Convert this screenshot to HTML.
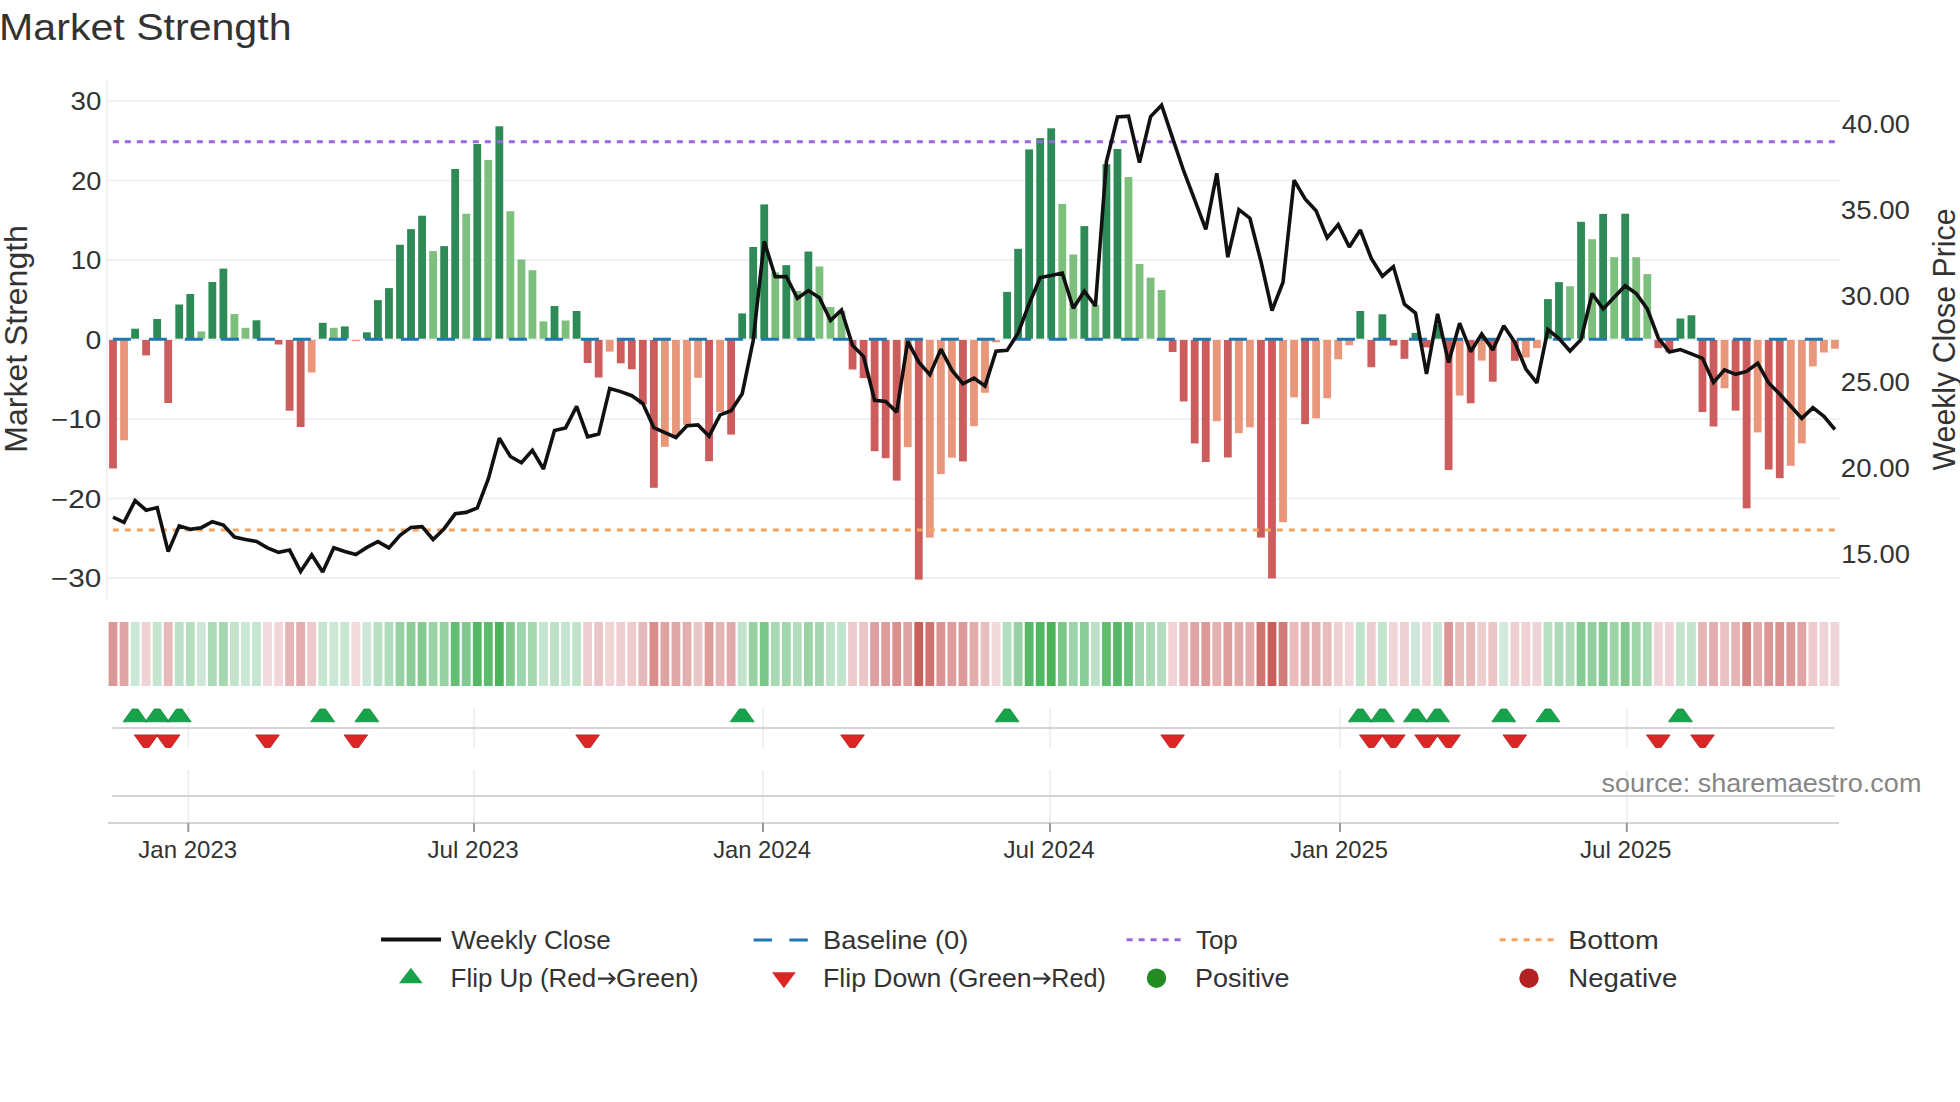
<!DOCTYPE html><html><head><meta charset="utf-8"><title>Market Strength</title><style>html,body{margin:0;padding:0;background:#fff;width:1960px;height:1102px;overflow:hidden}svg{display:block}text{font-family:"Liberation Sans",sans-serif}</style></head><body>
<svg width="1960" height="1102" viewBox="0 0 1960 1102">
<rect width="1960" height="1102" fill="#fff"/>
<line x1="108" y1="101.0" x2="1840" y2="101.0" stroke="#ebeef5" stroke-width="1.7"/>
<line x1="108" y1="180.5" x2="1840" y2="180.5" stroke="#ebeef5" stroke-width="1.7"/>
<line x1="108" y1="260.1" x2="1840" y2="260.1" stroke="#ebeef5" stroke-width="1.7"/>
<line x1="108" y1="339.6" x2="1840" y2="339.6" stroke="#ebeef5" stroke-width="1.7"/>
<line x1="108" y1="419.1" x2="1840" y2="419.1" stroke="#ebeef5" stroke-width="1.7"/>
<line x1="108" y1="498.7" x2="1840" y2="498.7" stroke="#ebeef5" stroke-width="1.7"/>
<line x1="108" y1="578.2" x2="1840" y2="578.2" stroke="#ebeef5" stroke-width="1.7"/>
<line x1="107" y1="80" x2="107" y2="599.5" stroke="#efeff4" stroke-width="1.6"/>
<rect x="109.10" y="340.00" width="7.8" height="128.50" fill="#cd5c5c"/>
<rect x="120.14" y="340.00" width="7.8" height="100.30" fill="#e9967a"/>
<rect x="131.18" y="328.70" width="7.8" height="10.00" fill="#2e8b57"/>
<rect x="142.21" y="340.00" width="7.8" height="15.40" fill="#cd5c5c"/>
<rect x="153.25" y="319.00" width="7.8" height="19.70" fill="#2e8b57"/>
<rect x="164.29" y="340.00" width="7.8" height="63.00" fill="#cd5c5c"/>
<rect x="175.33" y="304.50" width="7.8" height="34.20" fill="#2e8b57"/>
<rect x="186.37" y="294.00" width="7.8" height="44.70" fill="#2e8b57"/>
<rect x="197.40" y="331.40" width="7.8" height="7.30" fill="#7dbf7d"/>
<rect x="208.44" y="282.00" width="7.8" height="56.70" fill="#2e8b57"/>
<rect x="219.48" y="268.60" width="7.8" height="70.10" fill="#2e8b57"/>
<rect x="230.52" y="314.00" width="7.8" height="24.70" fill="#7dbf7d"/>
<rect x="241.56" y="327.80" width="7.8" height="10.90" fill="#7dbf7d"/>
<rect x="252.59" y="320.30" width="7.8" height="18.40" fill="#2e8b57"/>
<rect x="274.67" y="340.00" width="7.8" height="4.50" fill="#cd5c5c"/>
<rect x="285.71" y="340.00" width="7.8" height="70.70" fill="#cd5c5c"/>
<rect x="296.75" y="340.00" width="7.8" height="87.00" fill="#cd5c5c"/>
<rect x="307.78" y="340.00" width="7.8" height="32.50" fill="#e9967a"/>
<rect x="318.82" y="322.80" width="7.8" height="15.90" fill="#2e8b57"/>
<rect x="329.86" y="327.80" width="7.8" height="10.90" fill="#7dbf7d"/>
<rect x="340.90" y="326.40" width="7.8" height="12.30" fill="#2e8b57"/>
<rect x="351.94" y="340.00" width="7.8" height="1.20" fill="#e9967a"/>
<rect x="362.97" y="332.30" width="7.8" height="6.40" fill="#2e8b57"/>
<rect x="374.01" y="300.10" width="7.8" height="38.60" fill="#2e8b57"/>
<rect x="385.05" y="288.10" width="7.8" height="50.60" fill="#2e8b57"/>
<rect x="396.09" y="244.80" width="7.8" height="93.90" fill="#2e8b57"/>
<rect x="407.13" y="229.10" width="7.8" height="109.60" fill="#2e8b57"/>
<rect x="418.16" y="215.70" width="7.8" height="123.00" fill="#2e8b57"/>
<rect x="429.20" y="251.10" width="7.8" height="87.60" fill="#7dbf7d"/>
<rect x="440.24" y="246.10" width="7.8" height="92.60" fill="#2e8b57"/>
<rect x="451.28" y="169.00" width="7.8" height="169.70" fill="#2e8b57"/>
<rect x="462.32" y="213.70" width="7.8" height="125.00" fill="#7dbf7d"/>
<rect x="473.35" y="144.00" width="7.8" height="194.70" fill="#2e8b57"/>
<rect x="484.39" y="159.90" width="7.8" height="178.80" fill="#7dbf7d"/>
<rect x="495.43" y="126.30" width="7.8" height="212.40" fill="#2e8b57"/>
<rect x="506.47" y="211.20" width="7.8" height="127.50" fill="#7dbf7d"/>
<rect x="517.51" y="259.50" width="7.8" height="79.20" fill="#7dbf7d"/>
<rect x="528.54" y="270.20" width="7.8" height="68.50" fill="#7dbf7d"/>
<rect x="539.58" y="321.40" width="7.8" height="17.30" fill="#7dbf7d"/>
<rect x="550.62" y="306.00" width="7.8" height="32.70" fill="#2e8b57"/>
<rect x="561.66" y="320.50" width="7.8" height="18.20" fill="#7dbf7d"/>
<rect x="572.70" y="311.00" width="7.8" height="27.70" fill="#2e8b57"/>
<rect x="583.73" y="340.00" width="7.8" height="23.00" fill="#cd5c5c"/>
<rect x="594.77" y="340.00" width="7.8" height="37.50" fill="#cd5c5c"/>
<rect x="605.81" y="340.00" width="7.8" height="11.60" fill="#e9967a"/>
<rect x="616.85" y="340.00" width="7.8" height="23.30" fill="#cd5c5c"/>
<rect x="627.89" y="340.00" width="7.8" height="29.30" fill="#cd5c5c"/>
<rect x="638.92" y="340.00" width="7.8" height="64.50" fill="#cd5c5c"/>
<rect x="649.96" y="340.00" width="7.8" height="147.80" fill="#cd5c5c"/>
<rect x="661.00" y="340.00" width="7.8" height="106.80" fill="#e9967a"/>
<rect x="672.04" y="340.00" width="7.8" height="96.00" fill="#e9967a"/>
<rect x="683.08" y="340.00" width="7.8" height="85.00" fill="#e9967a"/>
<rect x="694.11" y="340.00" width="7.8" height="37.80" fill="#e9967a"/>
<rect x="705.15" y="340.00" width="7.8" height="121.20" fill="#cd5c5c"/>
<rect x="716.19" y="340.00" width="7.8" height="72.00" fill="#e9967a"/>
<rect x="727.23" y="340.00" width="7.8" height="94.60" fill="#cd5c5c"/>
<rect x="738.27" y="313.40" width="7.8" height="25.30" fill="#2e8b57"/>
<rect x="749.30" y="247.00" width="7.8" height="91.70" fill="#2e8b57"/>
<rect x="760.34" y="204.40" width="7.8" height="134.30" fill="#2e8b57"/>
<rect x="771.38" y="272.40" width="7.8" height="66.30" fill="#7dbf7d"/>
<rect x="782.42" y="265.20" width="7.8" height="73.50" fill="#2e8b57"/>
<rect x="793.46" y="291.00" width="7.8" height="47.70" fill="#7dbf7d"/>
<rect x="804.49" y="251.50" width="7.8" height="87.20" fill="#2e8b57"/>
<rect x="815.53" y="266.50" width="7.8" height="72.20" fill="#7dbf7d"/>
<rect x="826.57" y="307.00" width="7.8" height="31.70" fill="#7dbf7d"/>
<rect x="837.61" y="311.00" width="7.8" height="27.70" fill="#7dbf7d"/>
<rect x="848.65" y="340.00" width="7.8" height="29.50" fill="#cd5c5c"/>
<rect x="859.68" y="340.00" width="7.8" height="38.10" fill="#cd5c5c"/>
<rect x="870.72" y="340.00" width="7.8" height="111.20" fill="#cd5c5c"/>
<rect x="881.76" y="340.00" width="7.8" height="118.20" fill="#cd5c5c"/>
<rect x="892.80" y="340.00" width="7.8" height="140.60" fill="#cd5c5c"/>
<rect x="903.84" y="340.00" width="7.8" height="107.10" fill="#e9967a"/>
<rect x="914.87" y="340.00" width="7.8" height="239.60" fill="#cd5c5c"/>
<rect x="925.91" y="340.00" width="7.8" height="197.60" fill="#e9967a"/>
<rect x="936.95" y="340.00" width="7.8" height="134.10" fill="#e9967a"/>
<rect x="947.99" y="340.00" width="7.8" height="117.70" fill="#e9967a"/>
<rect x="959.03" y="340.00" width="7.8" height="121.40" fill="#cd5c5c"/>
<rect x="970.06" y="340.00" width="7.8" height="86.20" fill="#e9967a"/>
<rect x="981.10" y="340.00" width="7.8" height="52.80" fill="#e9967a"/>
<rect x="992.14" y="340.00" width="7.8" height="2.30" fill="#e9967a"/>
<rect x="1003.18" y="291.90" width="7.8" height="46.80" fill="#2e8b57"/>
<rect x="1014.22" y="248.80" width="7.8" height="89.90" fill="#2e8b57"/>
<rect x="1025.25" y="149.40" width="7.8" height="189.30" fill="#2e8b57"/>
<rect x="1036.29" y="138.10" width="7.8" height="200.60" fill="#2e8b57"/>
<rect x="1047.33" y="128.30" width="7.8" height="210.40" fill="#2e8b57"/>
<rect x="1058.37" y="203.90" width="7.8" height="134.80" fill="#7dbf7d"/>
<rect x="1069.41" y="254.50" width="7.8" height="84.20" fill="#7dbf7d"/>
<rect x="1080.44" y="226.10" width="7.8" height="112.60" fill="#2e8b57"/>
<rect x="1091.48" y="305.00" width="7.8" height="33.70" fill="#7dbf7d"/>
<rect x="1102.52" y="164.20" width="7.8" height="174.50" fill="#2e8b57"/>
<rect x="1113.56" y="149.00" width="7.8" height="189.70" fill="#2e8b57"/>
<rect x="1124.60" y="177.10" width="7.8" height="161.60" fill="#7dbf7d"/>
<rect x="1135.63" y="264.00" width="7.8" height="74.70" fill="#7dbf7d"/>
<rect x="1146.67" y="277.60" width="7.8" height="61.10" fill="#7dbf7d"/>
<rect x="1157.71" y="290.10" width="7.8" height="48.60" fill="#7dbf7d"/>
<rect x="1168.75" y="340.00" width="7.8" height="12.00" fill="#cd5c5c"/>
<rect x="1179.79" y="340.00" width="7.8" height="61.50" fill="#cd5c5c"/>
<rect x="1190.82" y="340.00" width="7.8" height="103.40" fill="#cd5c5c"/>
<rect x="1201.86" y="340.00" width="7.8" height="122.00" fill="#cd5c5c"/>
<rect x="1212.90" y="340.00" width="7.8" height="81.20" fill="#e9967a"/>
<rect x="1223.94" y="340.00" width="7.8" height="117.50" fill="#cd5c5c"/>
<rect x="1234.98" y="340.00" width="7.8" height="93.20" fill="#e9967a"/>
<rect x="1246.01" y="340.00" width="7.8" height="87.30" fill="#e9967a"/>
<rect x="1257.05" y="340.00" width="7.8" height="197.60" fill="#cd5c5c"/>
<rect x="1268.09" y="340.00" width="7.8" height="238.40" fill="#cd5c5c"/>
<rect x="1279.13" y="340.00" width="7.8" height="182.20" fill="#e9967a"/>
<rect x="1290.17" y="340.00" width="7.8" height="57.40" fill="#e9967a"/>
<rect x="1301.20" y="340.00" width="7.8" height="84.20" fill="#cd5c5c"/>
<rect x="1312.24" y="340.00" width="7.8" height="78.30" fill="#e9967a"/>
<rect x="1323.28" y="340.00" width="7.8" height="58.20" fill="#e9967a"/>
<rect x="1334.32" y="340.00" width="7.8" height="19.30" fill="#e9967a"/>
<rect x="1345.36" y="340.00" width="7.8" height="5.30" fill="#e9967a"/>
<rect x="1356.39" y="311.00" width="7.8" height="27.70" fill="#2e8b57"/>
<rect x="1367.43" y="340.00" width="7.8" height="27.20" fill="#cd5c5c"/>
<rect x="1378.47" y="314.30" width="7.8" height="24.40" fill="#2e8b57"/>
<rect x="1389.51" y="340.00" width="7.8" height="5.60" fill="#cd5c5c"/>
<rect x="1400.55" y="340.00" width="7.8" height="18.80" fill="#cd5c5c"/>
<rect x="1411.58" y="332.90" width="7.8" height="5.80" fill="#2e8b57"/>
<rect x="1422.62" y="340.00" width="7.8" height="7.40" fill="#cd5c5c"/>
<rect x="1433.66" y="325.00" width="7.8" height="13.70" fill="#2e8b57"/>
<rect x="1444.70" y="340.00" width="7.8" height="130.10" fill="#cd5c5c"/>
<rect x="1455.74" y="340.00" width="7.8" height="55.60" fill="#e9967a"/>
<rect x="1466.77" y="340.00" width="7.8" height="63.30" fill="#cd5c5c"/>
<rect x="1477.81" y="340.00" width="7.8" height="20.60" fill="#e9967a"/>
<rect x="1488.85" y="340.00" width="7.8" height="41.70" fill="#cd5c5c"/>
<rect x="1510.93" y="340.00" width="7.8" height="20.80" fill="#cd5c5c"/>
<rect x="1521.96" y="340.00" width="7.8" height="17.50" fill="#e9967a"/>
<rect x="1533.00" y="340.00" width="7.8" height="8.10" fill="#e9967a"/>
<rect x="1544.04" y="299.10" width="7.8" height="39.60" fill="#2e8b57"/>
<rect x="1555.08" y="282.10" width="7.8" height="56.60" fill="#2e8b57"/>
<rect x="1566.12" y="286.20" width="7.8" height="52.50" fill="#7dbf7d"/>
<rect x="1577.15" y="221.80" width="7.8" height="116.90" fill="#2e8b57"/>
<rect x="1588.19" y="239.20" width="7.8" height="99.50" fill="#7dbf7d"/>
<rect x="1599.23" y="213.90" width="7.8" height="124.80" fill="#2e8b57"/>
<rect x="1610.27" y="257.20" width="7.8" height="81.50" fill="#7dbf7d"/>
<rect x="1621.31" y="213.70" width="7.8" height="125.00" fill="#2e8b57"/>
<rect x="1632.34" y="257.20" width="7.8" height="81.50" fill="#7dbf7d"/>
<rect x="1643.38" y="274.10" width="7.8" height="64.60" fill="#7dbf7d"/>
<rect x="1654.42" y="340.00" width="7.8" height="8.10" fill="#cd5c5c"/>
<rect x="1665.46" y="340.00" width="7.8" height="12.50" fill="#cd5c5c"/>
<rect x="1676.50" y="318.50" width="7.8" height="20.20" fill="#2e8b57"/>
<rect x="1687.53" y="315.30" width="7.8" height="23.40" fill="#2e8b57"/>
<rect x="1698.57" y="340.00" width="7.8" height="72.00" fill="#cd5c5c"/>
<rect x="1709.61" y="340.00" width="7.8" height="86.50" fill="#cd5c5c"/>
<rect x="1720.65" y="340.00" width="7.8" height="48.20" fill="#e9967a"/>
<rect x="1731.69" y="340.00" width="7.8" height="70.60" fill="#cd5c5c"/>
<rect x="1742.72" y="340.00" width="7.8" height="168.40" fill="#cd5c5c"/>
<rect x="1753.76" y="340.00" width="7.8" height="92.40" fill="#e9967a"/>
<rect x="1764.80" y="340.00" width="7.8" height="129.50" fill="#cd5c5c"/>
<rect x="1775.84" y="340.00" width="7.8" height="138.20" fill="#cd5c5c"/>
<rect x="1786.88" y="340.00" width="7.8" height="125.80" fill="#e9967a"/>
<rect x="1797.91" y="340.00" width="7.8" height="103.40" fill="#e9967a"/>
<rect x="1808.95" y="340.00" width="7.8" height="26.40" fill="#e9967a"/>
<rect x="1819.99" y="340.00" width="7.8" height="12.50" fill="#e9967a"/>
<rect x="1831.03" y="340.00" width="7.8" height="8.70" fill="#e9967a"/>
<line x1="112.9" y1="339.3" x2="1838" y2="339.3" stroke="#1f77b4" stroke-width="3" stroke-dasharray="18 18"/>
<line x1="112.8" y1="141.7" x2="1838" y2="141.7" stroke="#9966dd" stroke-width="3" stroke-dasharray="6 6"/>
<line x1="112.8" y1="530" x2="1838" y2="530" stroke="#f4a460" stroke-width="3" stroke-dasharray="6 6"/>
<polyline points="113.0,517.2 124.0,522.3 135.1,500.6 146.1,510.2 157.2,507.6 168.2,551.6 179.2,525.9 190.3,529.3 201.3,527.7 212.3,521.7 223.4,525.1 234.4,537.0 245.5,539.5 256.5,541.4 267.5,547.8 278.6,552.3 289.6,550.1 300.6,571.4 311.7,554.8 322.7,572.0 333.8,547.8 344.8,551.5 355.8,554.5 366.9,547.4 377.9,541.6 388.9,547.9 400.0,535.3 411.0,527.4 422.1,526.6 433.1,539.5 444.1,528.7 455.2,513.8 466.2,512.4 477.3,507.8 488.3,479.0 499.3,438.3 510.4,456.5 521.4,462.7 532.4,450.4 543.5,469.0 554.5,430.6 565.6,427.9 576.6,406.4 587.6,436.8 598.7,434.1 609.7,388.4 620.7,391.6 631.8,395.7 642.8,403.5 653.9,427.7 664.9,432.6 675.9,437.5 687.0,425.8 698.0,424.9 709.1,436.2 720.1,414.9 731.1,410.8 742.2,393.7 753.2,340.5 764.2,241.4 775.3,276.7 786.3,276.5 797.4,298.3 808.4,290.6 819.4,297.8 830.5,320.6 841.5,310.0 852.5,345.2 863.6,356.6 874.6,400.3 885.7,401.5 896.7,412.1 907.7,341.4 918.8,362.2 929.8,374.7 940.9,349.1 951.9,370.2 962.9,383.8 974.0,378.1 985.0,386.0 996.0,351.3 1007.1,350.4 1018.1,333.2 1029.2,303.7 1040.2,277.6 1051.2,275.4 1062.3,273.1 1073.3,308.2 1084.3,291.2 1095.4,306.0 1106.4,161.9 1117.5,117.0 1128.5,116.1 1139.5,162.6 1150.6,116.6 1161.6,105.2 1172.6,138.1 1183.7,171.0 1194.7,199.8 1205.8,229.3 1216.8,173.3 1227.8,257.2 1238.9,209.6 1249.9,218.2 1261.0,261.7 1272.0,310.5 1283.0,282.2 1294.1,180.1 1305.1,198.9 1316.1,210.7 1327.2,237.9 1338.2,224.6 1349.3,247.0 1360.3,230.0 1371.3,258.4 1382.4,276.2 1393.4,266.6 1404.4,304.2 1415.5,313.1 1426.5,374.0 1437.6,313.8 1448.6,362.6 1459.6,323.2 1470.7,351.7 1481.7,334.1 1492.8,349.9 1503.8,325.8 1514.8,342.3 1525.9,369.0 1536.9,382.9 1547.9,329.6 1559.0,338.5 1570.0,351.0 1581.1,339.4 1592.1,293.5 1603.1,308.9 1614.2,297.3 1625.2,285.7 1636.2,293.5 1647.3,308.9 1658.3,338.0 1669.4,351.9 1680.4,349.6 1691.4,353.9 1702.5,358.3 1713.5,382.4 1724.5,369.9 1735.6,374.3 1746.6,371.4 1757.7,363.2 1768.7,383.0 1779.7,394.0 1790.8,406.2 1801.8,418.4 1812.9,407.7 1823.9,416.4 1834.9,429.5" fill="none" stroke="#111" stroke-width="3.6" stroke-linejoin="miter" stroke-miterlimit="2"/>
<text transform="translate(27.2,338.9) rotate(-90)" x="0" y="0" font-size="30.5" fill="#333333" text-anchor="middle" textLength="227.5" lengthAdjust="spacingAndGlyphs">Market Strength</text>
<text transform="translate(1954.5,339.5) rotate(-90)" x="0" y="0" font-size="31" fill="#333333" text-anchor="middle" textLength="262" lengthAdjust="spacingAndGlyphs">Weekly Close Price</text>
<rect x="108.60" y="622" width="8.8" height="64" fill="rgb(219,151,150)"/>
<rect x="119.64" y="622" width="8.8" height="64" fill="rgb(224,166,166)"/>
<rect x="130.68" y="622" width="8.8" height="64" fill="rgb(203,231,213)"/>
<rect x="141.71" y="622" width="8.8" height="64" fill="rgb(239,210,212)"/>
<rect x="152.75" y="622" width="8.8" height="64" fill="rgb(197,229,207)"/>
<rect x="163.79" y="622" width="8.8" height="64" fill="rgb(231,185,186)"/>
<rect x="174.83" y="622" width="8.8" height="64" fill="rgb(188,225,199)"/>
<rect x="185.87" y="622" width="8.8" height="64" fill="rgb(181,222,192)"/>
<rect x="196.90" y="622" width="8.8" height="64" fill="rgb(205,232,215)"/>
<rect x="207.94" y="622" width="8.8" height="64" fill="rgb(173,219,185)"/>
<rect x="218.98" y="622" width="8.8" height="64" fill="rgb(164,216,176)"/>
<rect x="230.02" y="622" width="8.8" height="64" fill="rgb(194,227,204)"/>
<rect x="241.06" y="622" width="8.8" height="64" fill="rgb(203,231,213)"/>
<rect x="252.09" y="622" width="8.8" height="64" fill="rgb(198,229,208)"/>
<rect x="263.13" y="622" width="8.8" height="64" fill="rgb(242,217,220)"/>
<rect x="274.17" y="622" width="8.8" height="64" fill="rgb(241,215,218)"/>
<rect x="285.21" y="622" width="8.8" height="64" fill="rgb(229,181,182)"/>
<rect x="296.25" y="622" width="8.8" height="64" fill="rgb(227,173,173)"/>
<rect x="307.28" y="622" width="8.8" height="64" fill="rgb(236,201,203)"/>
<rect x="318.32" y="622" width="8.8" height="64" fill="rgb(199,230,210)"/>
<rect x="329.36" y="622" width="8.8" height="64" fill="rgb(203,231,213)"/>
<rect x="340.40" y="622" width="8.8" height="64" fill="rgb(202,231,212)"/>
<rect x="351.44" y="622" width="8.8" height="64" fill="rgb(242,217,220)"/>
<rect x="362.47" y="622" width="8.8" height="64" fill="rgb(205,232,216)"/>
<rect x="373.51" y="622" width="8.8" height="64" fill="rgb(185,224,196)"/>
<rect x="384.55" y="622" width="8.8" height="64" fill="rgb(177,221,188)"/>
<rect x="395.59" y="622" width="8.8" height="64" fill="rgb(149,209,162)"/>
<rect x="406.63" y="622" width="8.8" height="64" fill="rgb(139,205,152)"/>
<rect x="417.66" y="622" width="8.8" height="64" fill="rgb(130,202,144)"/>
<rect x="428.70" y="622" width="8.8" height="64" fill="rgb(153,211,166)"/>
<rect x="439.74" y="622" width="8.8" height="64" fill="rgb(150,210,163)"/>
<rect x="450.78" y="622" width="8.8" height="64" fill="rgb(100,190,115)"/>
<rect x="461.82" y="622" width="8.8" height="64" fill="rgb(129,201,143)"/>
<rect x="472.85" y="622" width="8.8" height="64" fill="rgb(84,183,100)"/>
<rect x="483.89" y="622" width="8.8" height="64" fill="rgb(94,187,109)"/>
<rect x="494.93" y="622" width="8.8" height="64" fill="rgb(72,179,89)"/>
<rect x="505.97" y="622" width="8.8" height="64" fill="rgb(127,201,141)"/>
<rect x="517.01" y="622" width="8.8" height="64" fill="rgb(158,213,171)"/>
<rect x="528.04" y="622" width="8.8" height="64" fill="rgb(165,216,177)"/>
<rect x="539.08" y="622" width="8.8" height="64" fill="rgb(198,229,209)"/>
<rect x="550.12" y="622" width="8.8" height="64" fill="rgb(188,225,199)"/>
<rect x="561.16" y="622" width="8.8" height="64" fill="rgb(198,229,208)"/>
<rect x="572.20" y="622" width="8.8" height="64" fill="rgb(192,227,203)"/>
<rect x="583.23" y="622" width="8.8" height="64" fill="rgb(238,206,208)"/>
<rect x="594.27" y="622" width="8.8" height="64" fill="rgb(235,198,200)"/>
<rect x="605.31" y="622" width="8.8" height="64" fill="rgb(240,212,214)"/>
<rect x="616.35" y="622" width="8.8" height="64" fill="rgb(238,206,208)"/>
<rect x="627.39" y="622" width="8.8" height="64" fill="rgb(237,203,205)"/>
<rect x="638.42" y="622" width="8.8" height="64" fill="rgb(231,184,185)"/>
<rect x="649.46" y="622" width="8.8" height="64" fill="rgb(216,141,139)"/>
<rect x="660.50" y="622" width="8.8" height="64" fill="rgb(223,163,162)"/>
<rect x="671.54" y="622" width="8.8" height="64" fill="rgb(225,168,168)"/>
<rect x="682.58" y="622" width="8.8" height="64" fill="rgb(227,174,174)"/>
<rect x="693.61" y="622" width="8.8" height="64" fill="rgb(235,198,200)"/>
<rect x="704.65" y="622" width="8.8" height="64" fill="rgb(221,155,154)"/>
<rect x="715.69" y="622" width="8.8" height="64" fill="rgb(229,181,181)"/>
<rect x="726.73" y="622" width="8.8" height="64" fill="rgb(225,169,169)"/>
<rect x="737.77" y="622" width="8.8" height="64" fill="rgb(193,227,204)"/>
<rect x="748.80" y="622" width="8.8" height="64" fill="rgb(150,210,163)"/>
<rect x="759.84" y="622" width="8.8" height="64" fill="rgb(123,199,137)"/>
<rect x="770.88" y="622" width="8.8" height="64" fill="rgb(167,217,179)"/>
<rect x="781.92" y="622" width="8.8" height="64" fill="rgb(162,215,174)"/>
<rect x="792.96" y="622" width="8.8" height="64" fill="rgb(179,221,190)"/>
<rect x="803.99" y="622" width="8.8" height="64" fill="rgb(153,211,166)"/>
<rect x="815.03" y="622" width="8.8" height="64" fill="rgb(163,215,175)"/>
<rect x="826.07" y="622" width="8.8" height="64" fill="rgb(189,226,200)"/>
<rect x="837.11" y="622" width="8.8" height="64" fill="rgb(192,227,203)"/>
<rect x="848.15" y="622" width="8.8" height="64" fill="rgb(237,202,204)"/>
<rect x="859.18" y="622" width="8.8" height="64" fill="rgb(235,198,200)"/>
<rect x="870.22" y="622" width="8.8" height="64" fill="rgb(222,160,160)"/>
<rect x="881.26" y="622" width="8.8" height="64" fill="rgb(221,157,156)"/>
<rect x="892.30" y="622" width="8.8" height="64" fill="rgb(217,145,143)"/>
<rect x="903.34" y="622" width="8.8" height="64" fill="rgb(223,162,162)"/>
<rect x="914.37" y="622" width="8.8" height="64" fill="rgb(200,95,90)"/>
<rect x="925.41" y="622" width="8.8" height="64" fill="rgb(207,116,112)"/>
<rect x="936.45" y="622" width="8.8" height="64" fill="rgb(218,148,147)"/>
<rect x="947.49" y="622" width="8.8" height="64" fill="rgb(221,157,156)"/>
<rect x="958.53" y="622" width="8.8" height="64" fill="rgb(220,155,154)"/>
<rect x="969.56" y="622" width="8.8" height="64" fill="rgb(227,173,173)"/>
<rect x="980.60" y="622" width="8.8" height="64" fill="rgb(233,190,192)"/>
<rect x="991.64" y="622" width="8.8" height="64" fill="rgb(241,216,219)"/>
<rect x="1002.68" y="622" width="8.8" height="64" fill="rgb(179,222,191)"/>
<rect x="1013.72" y="622" width="8.8" height="64" fill="rgb(152,210,164)"/>
<rect x="1024.75" y="622" width="8.8" height="64" fill="rgb(87,185,103)"/>
<rect x="1035.79" y="622" width="8.8" height="64" fill="rgb(80,182,96)"/>
<rect x="1046.83" y="622" width="8.8" height="64" fill="rgb(74,179,90)"/>
<rect x="1057.87" y="622" width="8.8" height="64" fill="rgb(123,199,137)"/>
<rect x="1068.91" y="622" width="8.8" height="64" fill="rgb(155,212,168)"/>
<rect x="1079.94" y="622" width="8.8" height="64" fill="rgb(137,205,150)"/>
<rect x="1090.98" y="622" width="8.8" height="64" fill="rgb(188,225,199)"/>
<rect x="1102.02" y="622" width="8.8" height="64" fill="rgb(97,188,112)"/>
<rect x="1113.06" y="622" width="8.8" height="64" fill="rgb(87,185,103)"/>
<rect x="1124.10" y="622" width="8.8" height="64" fill="rgb(105,192,120)"/>
<rect x="1135.13" y="622" width="8.8" height="64" fill="rgb(161,214,174)"/>
<rect x="1146.17" y="622" width="8.8" height="64" fill="rgb(170,218,182)"/>
<rect x="1157.21" y="622" width="8.8" height="64" fill="rgb(178,221,190)"/>
<rect x="1168.25" y="622" width="8.8" height="64" fill="rgb(240,211,214)"/>
<rect x="1179.29" y="622" width="8.8" height="64" fill="rgb(231,186,187)"/>
<rect x="1190.32" y="622" width="8.8" height="64" fill="rgb(224,164,164)"/>
<rect x="1201.36" y="622" width="8.8" height="64" fill="rgb(220,155,154)"/>
<rect x="1212.40" y="622" width="8.8" height="64" fill="rgb(228,176,176)"/>
<rect x="1223.44" y="622" width="8.8" height="64" fill="rgb(221,157,156)"/>
<rect x="1234.48" y="622" width="8.8" height="64" fill="rgb(225,170,169)"/>
<rect x="1245.51" y="622" width="8.8" height="64" fill="rgb(227,173,173)"/>
<rect x="1256.55" y="622" width="8.8" height="64" fill="rgb(207,116,112)"/>
<rect x="1267.59" y="622" width="8.8" height="64" fill="rgb(200,95,90)"/>
<rect x="1278.63" y="622" width="8.8" height="64" fill="rgb(210,124,121)"/>
<rect x="1289.67" y="622" width="8.8" height="64" fill="rgb(232,188,189)"/>
<rect x="1300.70" y="622" width="8.8" height="64" fill="rgb(227,174,174)"/>
<rect x="1311.74" y="622" width="8.8" height="64" fill="rgb(228,177,178)"/>
<rect x="1322.78" y="622" width="8.8" height="64" fill="rgb(232,188,189)"/>
<rect x="1333.82" y="622" width="8.8" height="64" fill="rgb(238,208,210)"/>
<rect x="1344.86" y="622" width="8.8" height="64" fill="rgb(241,215,218)"/>
<rect x="1355.89" y="622" width="8.8" height="64" fill="rgb(192,227,203)"/>
<rect x="1366.93" y="622" width="8.8" height="64" fill="rgb(237,204,206)"/>
<rect x="1377.97" y="622" width="8.8" height="64" fill="rgb(194,228,205)"/>
<rect x="1389.01" y="622" width="8.8" height="64" fill="rgb(241,215,218)"/>
<rect x="1400.05" y="622" width="8.8" height="64" fill="rgb(239,208,210)"/>
<rect x="1411.08" y="622" width="8.8" height="64" fill="rgb(206,232,216)"/>
<rect x="1422.12" y="622" width="8.8" height="64" fill="rgb(241,214,217)"/>
<rect x="1433.16" y="622" width="8.8" height="64" fill="rgb(201,230,211)"/>
<rect x="1444.20" y="622" width="8.8" height="64" fill="rgb(219,151,149)"/>
<rect x="1455.24" y="622" width="8.8" height="64" fill="rgb(232,189,190)"/>
<rect x="1466.27" y="622" width="8.8" height="64" fill="rgb(231,185,186)"/>
<rect x="1477.31" y="622" width="8.8" height="64" fill="rgb(238,207,209)"/>
<rect x="1488.35" y="622" width="8.8" height="64" fill="rgb(235,196,198)"/>
<rect x="1499.39" y="622" width="8.8" height="64" fill="rgb(210,234,220)"/>
<rect x="1510.43" y="622" width="8.8" height="64" fill="rgb(238,207,209)"/>
<rect x="1521.46" y="622" width="8.8" height="64" fill="rgb(239,209,211)"/>
<rect x="1532.50" y="622" width="8.8" height="64" fill="rgb(240,213,216)"/>
<rect x="1543.54" y="622" width="8.8" height="64" fill="rgb(184,224,195)"/>
<rect x="1554.58" y="622" width="8.8" height="64" fill="rgb(173,219,185)"/>
<rect x="1565.62" y="622" width="8.8" height="64" fill="rgb(176,220,187)"/>
<rect x="1576.65" y="622" width="8.8" height="64" fill="rgb(134,203,148)"/>
<rect x="1587.69" y="622" width="8.8" height="64" fill="rgb(145,208,158)"/>
<rect x="1598.73" y="622" width="8.8" height="64" fill="rgb(129,201,143)"/>
<rect x="1609.77" y="622" width="8.8" height="64" fill="rgb(157,213,169)"/>
<rect x="1620.81" y="622" width="8.8" height="64" fill="rgb(129,201,143)"/>
<rect x="1631.84" y="622" width="8.8" height="64" fill="rgb(157,213,169)"/>
<rect x="1642.88" y="622" width="8.8" height="64" fill="rgb(168,217,180)"/>
<rect x="1653.92" y="622" width="8.8" height="64" fill="rgb(240,213,216)"/>
<rect x="1664.96" y="622" width="8.8" height="64" fill="rgb(240,211,214)"/>
<rect x="1676.00" y="622" width="8.8" height="64" fill="rgb(197,229,207)"/>
<rect x="1687.03" y="622" width="8.8" height="64" fill="rgb(195,228,205)"/>
<rect x="1698.07" y="622" width="8.8" height="64" fill="rgb(229,181,181)"/>
<rect x="1709.11" y="622" width="8.8" height="64" fill="rgb(227,173,173)"/>
<rect x="1720.15" y="622" width="8.8" height="64" fill="rgb(233,193,194)"/>
<rect x="1731.19" y="622" width="8.8" height="64" fill="rgb(229,181,182)"/>
<rect x="1742.22" y="622" width="8.8" height="64" fill="rgb(212,131,128)"/>
<rect x="1753.26" y="622" width="8.8" height="64" fill="rgb(226,170,170)"/>
<rect x="1764.30" y="622" width="8.8" height="64" fill="rgb(219,151,149)"/>
<rect x="1775.34" y="622" width="8.8" height="64" fill="rgb(218,146,145)"/>
<rect x="1786.38" y="622" width="8.8" height="64" fill="rgb(220,153,152)"/>
<rect x="1797.41" y="622" width="8.8" height="64" fill="rgb(224,164,164)"/>
<rect x="1808.45" y="622" width="8.8" height="64" fill="rgb(237,204,206)"/>
<rect x="1819.49" y="622" width="8.8" height="64" fill="rgb(240,211,214)"/>
<rect x="1830.53" y="622" width="8.8" height="64" fill="rgb(240,213,216)"/>
<line x1="188.3" y1="708" x2="188.3" y2="748" stroke="#ebecf2" stroke-width="1.6"/>
<line x1="188.3" y1="770" x2="188.3" y2="823" stroke="#ebecf2" stroke-width="1.6"/>
<line x1="474" y1="708" x2="474" y2="748" stroke="#ebecf2" stroke-width="1.6"/>
<line x1="474" y1="770" x2="474" y2="823" stroke="#ebecf2" stroke-width="1.6"/>
<line x1="763" y1="708" x2="763" y2="748" stroke="#ebecf2" stroke-width="1.6"/>
<line x1="763" y1="770" x2="763" y2="823" stroke="#ebecf2" stroke-width="1.6"/>
<line x1="1050" y1="708" x2="1050" y2="748" stroke="#ebecf2" stroke-width="1.6"/>
<line x1="1050" y1="770" x2="1050" y2="823" stroke="#ebecf2" stroke-width="1.6"/>
<line x1="1340" y1="708" x2="1340" y2="748" stroke="#ebecf2" stroke-width="1.6"/>
<line x1="1340" y1="770" x2="1340" y2="823" stroke="#ebecf2" stroke-width="1.6"/>
<line x1="1626.8" y1="708" x2="1626.8" y2="748" stroke="#ebecf2" stroke-width="1.6"/>
<line x1="1626.8" y1="770" x2="1626.8" y2="823" stroke="#ebecf2" stroke-width="1.6"/>
<line x1="112.2" y1="728" x2="1834.5" y2="728" stroke="#d3d4d8" stroke-width="2"/>
<line x1="112.2" y1="796" x2="1834.5" y2="796" stroke="#d3d4d8" stroke-width="2"/>
<line x1="108" y1="823" x2="1839" y2="823" stroke="#d3d4d8" stroke-width="2"/>
<line x1="188.3" y1="823" x2="188.3" y2="832" stroke="#9a9a9a" stroke-width="2"/>
<line x1="474" y1="823" x2="474" y2="832" stroke="#9a9a9a" stroke-width="2"/>
<line x1="763" y1="823" x2="763" y2="832" stroke="#9a9a9a" stroke-width="2"/>
<line x1="1050" y1="823" x2="1050" y2="832" stroke="#9a9a9a" stroke-width="2"/>
<line x1="1340" y1="823" x2="1340" y2="832" stroke="#9a9a9a" stroke-width="2"/>
<line x1="1626.8" y1="823" x2="1626.8" y2="832" stroke="#9a9a9a" stroke-width="2"/>
<path d="M123.1,721.8 L147.1,721.8 L138.0,709 L132.2,709 Z" fill="#16a34a" stroke="#178a42" stroke-width="0.8" stroke-linejoin="round"/>
<path d="M145.2,721.8 L169.2,721.8 L160.1,709 L154.3,709 Z" fill="#16a34a" stroke="#178a42" stroke-width="0.8" stroke-linejoin="round"/>
<path d="M167.2,721.8 L191.2,721.8 L182.1,709 L176.3,709 Z" fill="#16a34a" stroke="#178a42" stroke-width="0.8" stroke-linejoin="round"/>
<path d="M310.7,721.8 L334.7,721.8 L325.6,709 L319.8,709 Z" fill="#16a34a" stroke="#178a42" stroke-width="0.8" stroke-linejoin="round"/>
<path d="M354.9,721.8 L378.9,721.8 L369.8,709 L364.0,709 Z" fill="#16a34a" stroke="#178a42" stroke-width="0.8" stroke-linejoin="round"/>
<path d="M730.2,721.8 L754.2,721.8 L745.1,709 L739.3,709 Z" fill="#16a34a" stroke="#178a42" stroke-width="0.8" stroke-linejoin="round"/>
<path d="M995.1,721.8 L1019.1,721.8 L1010.0,709 L1004.2,709 Z" fill="#16a34a" stroke="#178a42" stroke-width="0.8" stroke-linejoin="round"/>
<path d="M1348.3,721.8 L1372.3,721.8 L1363.2,709 L1357.4,709 Z" fill="#16a34a" stroke="#178a42" stroke-width="0.8" stroke-linejoin="round"/>
<path d="M1370.4,721.8 L1394.4,721.8 L1385.3,709 L1379.5,709 Z" fill="#16a34a" stroke="#178a42" stroke-width="0.8" stroke-linejoin="round"/>
<path d="M1403.5,721.8 L1427.5,721.8 L1418.4,709 L1412.6,709 Z" fill="#16a34a" stroke="#178a42" stroke-width="0.8" stroke-linejoin="round"/>
<path d="M1425.6,721.8 L1449.6,721.8 L1440.5,709 L1434.7,709 Z" fill="#16a34a" stroke="#178a42" stroke-width="0.8" stroke-linejoin="round"/>
<path d="M1491.8,721.8 L1515.8,721.8 L1506.7,709 L1500.9,709 Z" fill="#16a34a" stroke="#178a42" stroke-width="0.8" stroke-linejoin="round"/>
<path d="M1535.9,721.8 L1559.9,721.8 L1550.8,709 L1545.0,709 Z" fill="#16a34a" stroke="#178a42" stroke-width="0.8" stroke-linejoin="round"/>
<path d="M1668.4,721.8 L1692.4,721.8 L1683.3,709 L1677.5,709 Z" fill="#16a34a" stroke="#178a42" stroke-width="0.8" stroke-linejoin="round"/>
<path d="M134.3,734.9 L157.9,734.9 L148.9,747.5 L143.3,747.5 Z" fill="#dc2626" stroke="#b52222" stroke-width="0.8" stroke-linejoin="round"/>
<path d="M156.4,734.9 L180.0,734.9 L171.0,747.5 L165.4,747.5 Z" fill="#dc2626" stroke="#b52222" stroke-width="0.8" stroke-linejoin="round"/>
<path d="M255.7,734.9 L279.3,734.9 L270.3,747.5 L264.7,747.5 Z" fill="#dc2626" stroke="#b52222" stroke-width="0.8" stroke-linejoin="round"/>
<path d="M344.0,734.9 L367.6,734.9 L358.6,747.5 L353.0,747.5 Z" fill="#dc2626" stroke="#b52222" stroke-width="0.8" stroke-linejoin="round"/>
<path d="M575.8,734.9 L599.4,734.9 L590.4,747.5 L584.8,747.5 Z" fill="#dc2626" stroke="#b52222" stroke-width="0.8" stroke-linejoin="round"/>
<path d="M840.7,734.9 L864.3,734.9 L855.3,747.5 L849.7,747.5 Z" fill="#dc2626" stroke="#b52222" stroke-width="0.8" stroke-linejoin="round"/>
<path d="M1160.8,734.9 L1184.4,734.9 L1175.4,747.5 L1169.8,747.5 Z" fill="#dc2626" stroke="#b52222" stroke-width="0.8" stroke-linejoin="round"/>
<path d="M1359.5,734.9 L1383.1,734.9 L1374.1,747.5 L1368.5,747.5 Z" fill="#dc2626" stroke="#b52222" stroke-width="0.8" stroke-linejoin="round"/>
<path d="M1381.6,734.9 L1405.2,734.9 L1396.2,747.5 L1390.6,747.5 Z" fill="#dc2626" stroke="#b52222" stroke-width="0.8" stroke-linejoin="round"/>
<path d="M1414.7,734.9 L1438.3,734.9 L1429.3,747.5 L1423.7,747.5 Z" fill="#dc2626" stroke="#b52222" stroke-width="0.8" stroke-linejoin="round"/>
<path d="M1436.8,734.9 L1460.4,734.9 L1451.4,747.5 L1445.8,747.5 Z" fill="#dc2626" stroke="#b52222" stroke-width="0.8" stroke-linejoin="round"/>
<path d="M1503.0,734.9 L1526.6,734.9 L1517.6,747.5 L1512.0,747.5 Z" fill="#dc2626" stroke="#b52222" stroke-width="0.8" stroke-linejoin="round"/>
<path d="M1646.5,734.9 L1670.1,734.9 L1661.1,747.5 L1655.5,747.5 Z" fill="#dc2626" stroke="#b52222" stroke-width="0.8" stroke-linejoin="round"/>
<path d="M1690.7,734.9 L1714.3,734.9 L1705.3,747.5 L1699.7,747.5 Z" fill="#dc2626" stroke="#b52222" stroke-width="0.8" stroke-linejoin="round"/>
<line x1="381" y1="939.6" x2="441" y2="939.6" stroke="#111" stroke-width="4"/>
<line x1="753.6" y1="940" x2="808" y2="940" stroke="#1f77b4" stroke-width="3" stroke-dasharray="18.4 17.4"/>
<line x1="1126.6" y1="939.7" x2="1181" y2="939.7" stroke="#9966dd" stroke-width="3" stroke-dasharray="6 6"/>
<line x1="1499.6" y1="939.7" x2="1554" y2="939.7" stroke="#f4a460" stroke-width="3" stroke-dasharray="6 6"/>
<path d="M399,983.2 L422.7,983.2 L410.9,967.7 Z" fill="#16a34a"/>
<path d="M772,972.2 L795.8,972.2 L783.9,988.3 Z" fill="#dc2626"/>
<circle cx="1156.5" cy="978.2" r="9.7" fill="#228b22"/>
<circle cx="1529" cy="978.2" r="9.7" fill="#b22222"/>
<text x="-0.90" y="40.1" font-size="36" fill="#333333" text-anchor="start" textLength="292.40" lengthAdjust="spacingAndGlyphs" >Market Strength</text>
<text x="70.60" y="109.95" font-size="25" fill="#333333" text-anchor="start" textLength="30.80" lengthAdjust="spacingAndGlyphs" >30</text>
<text x="71.20" y="189.5" font-size="25" fill="#333333" text-anchor="start" textLength="30.20" lengthAdjust="spacingAndGlyphs" >20</text>
<text x="70.80" y="269.0" font-size="25" fill="#333333" text-anchor="start" textLength="30.60" lengthAdjust="spacingAndGlyphs" >10</text>
<text x="85.60" y="348.5" font-size="25" fill="#333333" text-anchor="start" textLength="15.80" lengthAdjust="spacingAndGlyphs" >0</text>
<text x="51.00" y="428.04999999999995" font-size="25" fill="#333333" text-anchor="start" textLength="50.40" lengthAdjust="spacingAndGlyphs" >−10</text>
<text x="51.00" y="507.59999999999997" font-size="25" fill="#333333" text-anchor="start" textLength="50.40" lengthAdjust="spacingAndGlyphs" >−20</text>
<text x="51.00" y="587.1" font-size="25" fill="#333333" text-anchor="start" textLength="50.40" lengthAdjust="spacingAndGlyphs" >−30</text>
<text x="1841.80" y="132.75" font-size="25" fill="#333333" text-anchor="start" textLength="68.10" lengthAdjust="spacingAndGlyphs" >40.00</text>
<text x="1840.80" y="218.75" font-size="25" fill="#333333" text-anchor="start" textLength="69.10" lengthAdjust="spacingAndGlyphs" >35.00</text>
<text x="1840.80" y="304.75" font-size="25" fill="#333333" text-anchor="start" textLength="69.10" lengthAdjust="spacingAndGlyphs" >30.00</text>
<text x="1840.80" y="390.75" font-size="25" fill="#333333" text-anchor="start" textLength="69.10" lengthAdjust="spacingAndGlyphs" >25.00</text>
<text x="1840.80" y="476.75" font-size="25" fill="#333333" text-anchor="start" textLength="69.10" lengthAdjust="spacingAndGlyphs" >20.00</text>
<text x="1841.30" y="562.75" font-size="25" fill="#333333" text-anchor="start" textLength="68.60" lengthAdjust="spacingAndGlyphs" >15.00</text>
<text x="138.30" y="858.0" font-size="24" fill="#333333" text-anchor="start" textLength="98.80" lengthAdjust="spacingAndGlyphs" >Jan 2023</text>
<text x="427.40" y="858.0" font-size="24" fill="#333333" text-anchor="start" textLength="91.40" lengthAdjust="spacingAndGlyphs" >Jul 2023</text>
<text x="713.20" y="858.0" font-size="24" fill="#333333" text-anchor="start" textLength="97.80" lengthAdjust="spacingAndGlyphs" >Jan 2024</text>
<text x="1003.40" y="858.0" font-size="24" fill="#333333" text-anchor="start" textLength="91.40" lengthAdjust="spacingAndGlyphs" >Jul 2024</text>
<text x="1290.20" y="858.0" font-size="24" fill="#333333" text-anchor="start" textLength="97.80" lengthAdjust="spacingAndGlyphs" >Jan 2025</text>
<text x="1580.00" y="858.0" font-size="24" fill="#333333" text-anchor="start" textLength="91.40" lengthAdjust="spacingAndGlyphs" >Jul 2025</text>
<text x="1601.60" y="791.9" font-size="25" fill="#868686" text-anchor="start" textLength="319.80" lengthAdjust="spacingAndGlyphs" >source: sharemaestro.com</text>
<text x="451.30" y="948.9" font-size="25" fill="#333333" text-anchor="start" textLength="159.50" lengthAdjust="spacingAndGlyphs" >Weekly Close</text>
<text x="823.10" y="948.9" font-size="25" fill="#333333" text-anchor="start" textLength="145.20" lengthAdjust="spacingAndGlyphs" >Baseline (0)</text>
<text x="1195.90" y="948.9" font-size="25" fill="#333333" text-anchor="start" textLength="41.90" lengthAdjust="spacingAndGlyphs" >Top</text>
<text x="1568.20" y="948.9" font-size="25" fill="#333333" text-anchor="start" textLength="90.60" lengthAdjust="spacingAndGlyphs" >Bottom</text>
<text x="450.60" y="986.5" font-size="25" fill="#333333" text-anchor="start" textLength="145.50" lengthAdjust="spacingAndGlyphs" >Flip Up (Red</text>
<text x="616.00" y="986.5" font-size="25" fill="#333333" text-anchor="start" textLength="82.70" lengthAdjust="spacingAndGlyphs" >Green)</text>
<text x="823.10" y="986.5" font-size="25" fill="#333333" text-anchor="start" textLength="208.50" lengthAdjust="spacingAndGlyphs" >Flip Down (Green</text>
<text x="1051.20" y="986.5" font-size="25" fill="#333333" text-anchor="start" textLength="54.60" lengthAdjust="spacingAndGlyphs" >Red)</text>
<text x="1195.10" y="986.5" font-size="25" fill="#333333" text-anchor="start" textLength="94.30" lengthAdjust="spacingAndGlyphs" >Positive</text>
<text x="1568.20" y="986.5" font-size="25" fill="#333333" text-anchor="start" textLength="109.10" lengthAdjust="spacingAndGlyphs" >Negative</text>
<path d="M598.0,978.6 L614.3000000000001,978.6 M608.9,973.2 L614.5,978.6 L608.9,984" fill="none" stroke="#333333" stroke-width="2.1" stroke-linecap="butt" stroke-linejoin="miter"/>
<path d="M1033.2,978.6 L1049.3,978.6 M1043.8999999999999,973.2 L1049.5,978.6 L1043.8999999999999,984" fill="none" stroke="#333333" stroke-width="2.1" stroke-linecap="butt" stroke-linejoin="miter"/>
</svg></body></html>
